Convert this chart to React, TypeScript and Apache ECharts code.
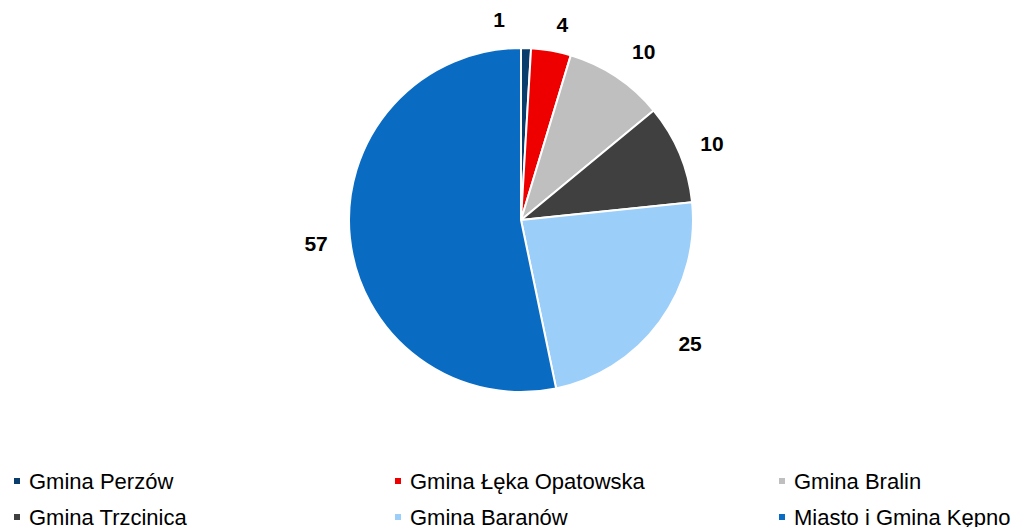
import React, { useEffect, useRef } from "react";
import * as echarts from "echarts";

const names = [
  "Gmina Perzów",
  "Gmina Łęka Opatowska",
  "Gmina Bralin",
  "Gmina Trzcinica",
  "Gmina Baranów",
  "Miasto i Gmina Kępno",
];
const values = [1, 4, 10, 10, 25, 57];
const colors = ["#0B3D6C", "#EE0000", "#BFBFBF", "#404040", "#9CCEFA", "#0A6BC3"];
const legendLefts = [12, 393, 777];
const legendTops = [470, 506];
const labelNudges = [
  [-28, 6],
  [5, 8],
  [8, 4],
  [0, 3],
  [2, 1],
  [1, 2],
];

export default function App() {
  const ref = useRef<HTMLDivElement>(null);
  useEffect(() => {
    if (!ref.current) return;
    const chart = echarts.init(ref.current, null, { renderer: "svg" });
    const data = names.map((n, i) => ({
      name: n,
      value: values[i],
      itemStyle: { color: colors[i] },
    }));
    const font = "'Liberation Sans', Arial, sans-serif";
    chart.setOption({
      animation: false,
      backgroundColor: "#ffffff",
      legend: names.map((n, i) => ({
        data: [n],
        orient: "horizontal",
        left: legendLefts[i % 3],
        top: legendTops[Math.floor(i / 3)],
        padding: 0,
        icon: "rect",
        itemWidth: 8,
        itemHeight: 8,
        selectedMode: false,
        textStyle: {
          fontFamily: font,
          fontSize: 22,
          lineHeight: 22,
          color: "#000000",
          padding: [0, 0, 0, 3],
        },
      })),
      series: [
        {
          type: "pie",
          center: [521, 220],
          radius: 172,
          startAngle: 90,
          clockwise: true,
          silent: true,
          data,
          itemStyle: { borderColor: "#ffffff", borderWidth: 2 },
          label: { show: false },
          labelLine: { show: false },
        },
        {
          type: "pie",
          center: [521, 220],
          radius: [172, 236],
          startAngle: 90,
          clockwise: true,
          silent: true,
          data: names.map((n, i) => ({
            name: n,
            value: values[i],
            itemStyle: { color: "rgba(0,0,0,0)" },
          })),
          label: {
            show: true,
            position: "inside",
            formatter: (p: any) => String(p.value),
            fontFamily: font,
            fontSize: 21,
            fontWeight: "bold",
            color: "#000000",
          },
          labelLine: { show: false },
          labelLayout: (p: any) => ({
            dx: labelNudges[p.dataIndex][0],
            dy: labelNudges[p.dataIndex][1],
          }),
        },
      ],
    });
    return () => chart.dispose();
  }, []);
  return (
    <div
      ref={ref}
      style={{ position: "fixed", left: 0, top: 0, width: 1019, height: 527 }}
    />
  );
}
